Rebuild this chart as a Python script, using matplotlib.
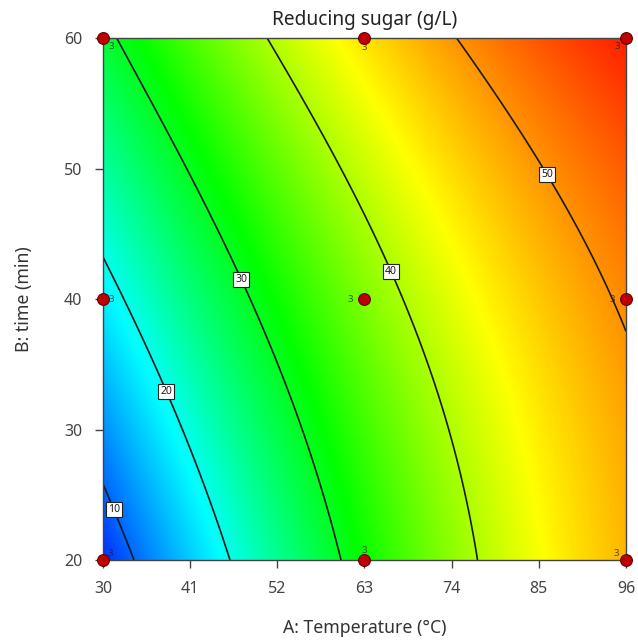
import numpy as np
import matplotlib
matplotlib.use('Agg')
import matplotlib.pyplot as plt
from matplotlib.colors import LinearSegmentedColormap

plt.rcParams['font.family'] = ['Noto Sans', 'DejaVu Sans']

# predicted response at the 3x3 design grid (rows: time 20/40/60, cols: temp 30/63/96)
temp_levels = [30, 63, 96]
time_levels = [20, 40, 60]
pred_grid = [[6.5, 31.9, 48.0],
             [18.2, 37.7, 50.5],
             [29.0, 45.5, 56.5]]
levels = [10, 20, 30, 40, 50]
xticks = [30, 41, 52, 63, 74, 85, 96]
yticks = [20, 30, 40, 50, 60]

# design points and replicate counts
pt_temp = [30, 30, 30, 63, 63, 63, 96, 96, 96]
pt_time = [20, 40, 60, 20, 40, 60, 20, 40, 60]
pt_reps = ['3', '3', '3', '3', '3', '3', '3', '3', '3']


def lagrange3(u):
    # quadratic basis over coded -1, 0, 1
    return [u * (u - 1) / 2, 1 - u ** 2, u * (u + 1) / 2]


def surface(T, t):
    a = (T - temp_levels[1]) / (temp_levels[2] - temp_levels[1])
    b = (t - time_levels[1]) / (time_levels[2] - time_levels[1])
    La = lagrange3(a)
    Lb = lagrange3(b)
    Z = np.zeros_like(T)
    for i in range(3):
        for j in range(3):
            Z += pred_grid[i][j] * Lb[i] * La[j]
    return Z


T = np.linspace(temp_levels[0], temp_levels[-1], 300)
t = np.linspace(time_levels[0], time_levels[-1], 300)
TT, tt = np.meshgrid(T, t)
Z = surface(TT, tt)

cmap = LinearSegmentedColormap.from_list(
    'de', ['#0030ff', '#00ffff', '#00ff00', '#ffff00', '#ff2000'])

fig = plt.figure(figsize=(6.38, 6.44), dpi=100)
ax = fig.add_axes([0.1614, 0.1304, 0.8198, 0.8106])

ax.imshow(Z, extent=[30, 96, 20, 60], origin='lower', aspect='auto',
          cmap=cmap, interpolation='bilinear')
cs = ax.contour(TT, tt, Z, levels=levels, colors='#1a1a1a', linewidths=1.2)
lbls = ax.clabel(cs, fmt='%d', fontsize=7.5, inline=False,
                 manual=[(31.8, 24.0), (38.3, 33.0), (47.5, 41.5),
                         (66.0, 42.0), (86.0, 49.5)])
for txt in lbls:
    txt.set_bbox(dict(boxstyle='square,pad=0.2', fc='white', ec='#222222', lw=0.8))
    txt.set_rotation(0)

ax.plot(pt_temp, pt_time, 'o', color='#c00000', mec='#600000', mew=0.8,
        ms=8.5, clip_on=False, zorder=5)

offsets = {(30, 20): (5, 5), (30, 40): (6, 0), (30, 60): (6, -6),
           (63, 20): (0, 7), (63, 40): (-10, 0), (63, 60): (0, -7),
           (96, 20): (-7, 5), (96, 40): (-10, 0), (96, 60): (-6, -6)}
for x, y, r in zip(pt_temp, pt_time, pt_reps):
    dx, dy = offsets[(x, y)]
    ax.annotate(r, (x, y), xytext=(dx, dy), textcoords='offset points',
                ha='center', va='center', fontsize=7, color='#202020', alpha=0.75)

ax.set_xlim(temp_levels[0], temp_levels[-1])
ax.set_ylim(time_levels[0], time_levels[-1])
ax.set_xticks(xticks)
ax.set_yticks(yticks)
ax.tick_params(direction='out', length=6, width=1, colors='#444444',
               labelsize=11.5, labelcolor='#444444', pad=9)
for s in ax.spines.values():
    s.set_color('#444444')
    s.set_linewidth(1)

ax.set_title('Reducing sugar (g/L)', fontsize=13.75, color='#222222', pad=9)
ax.set_xlabel('A: Temperature (°C)', fontsize=12.7, color='#333333', labelpad=16)
ax.set_ylabel('B: time (min)', fontsize=12.7, color='#333333', labelpad=22)

fig.savefig('out.png', dpi=100)
